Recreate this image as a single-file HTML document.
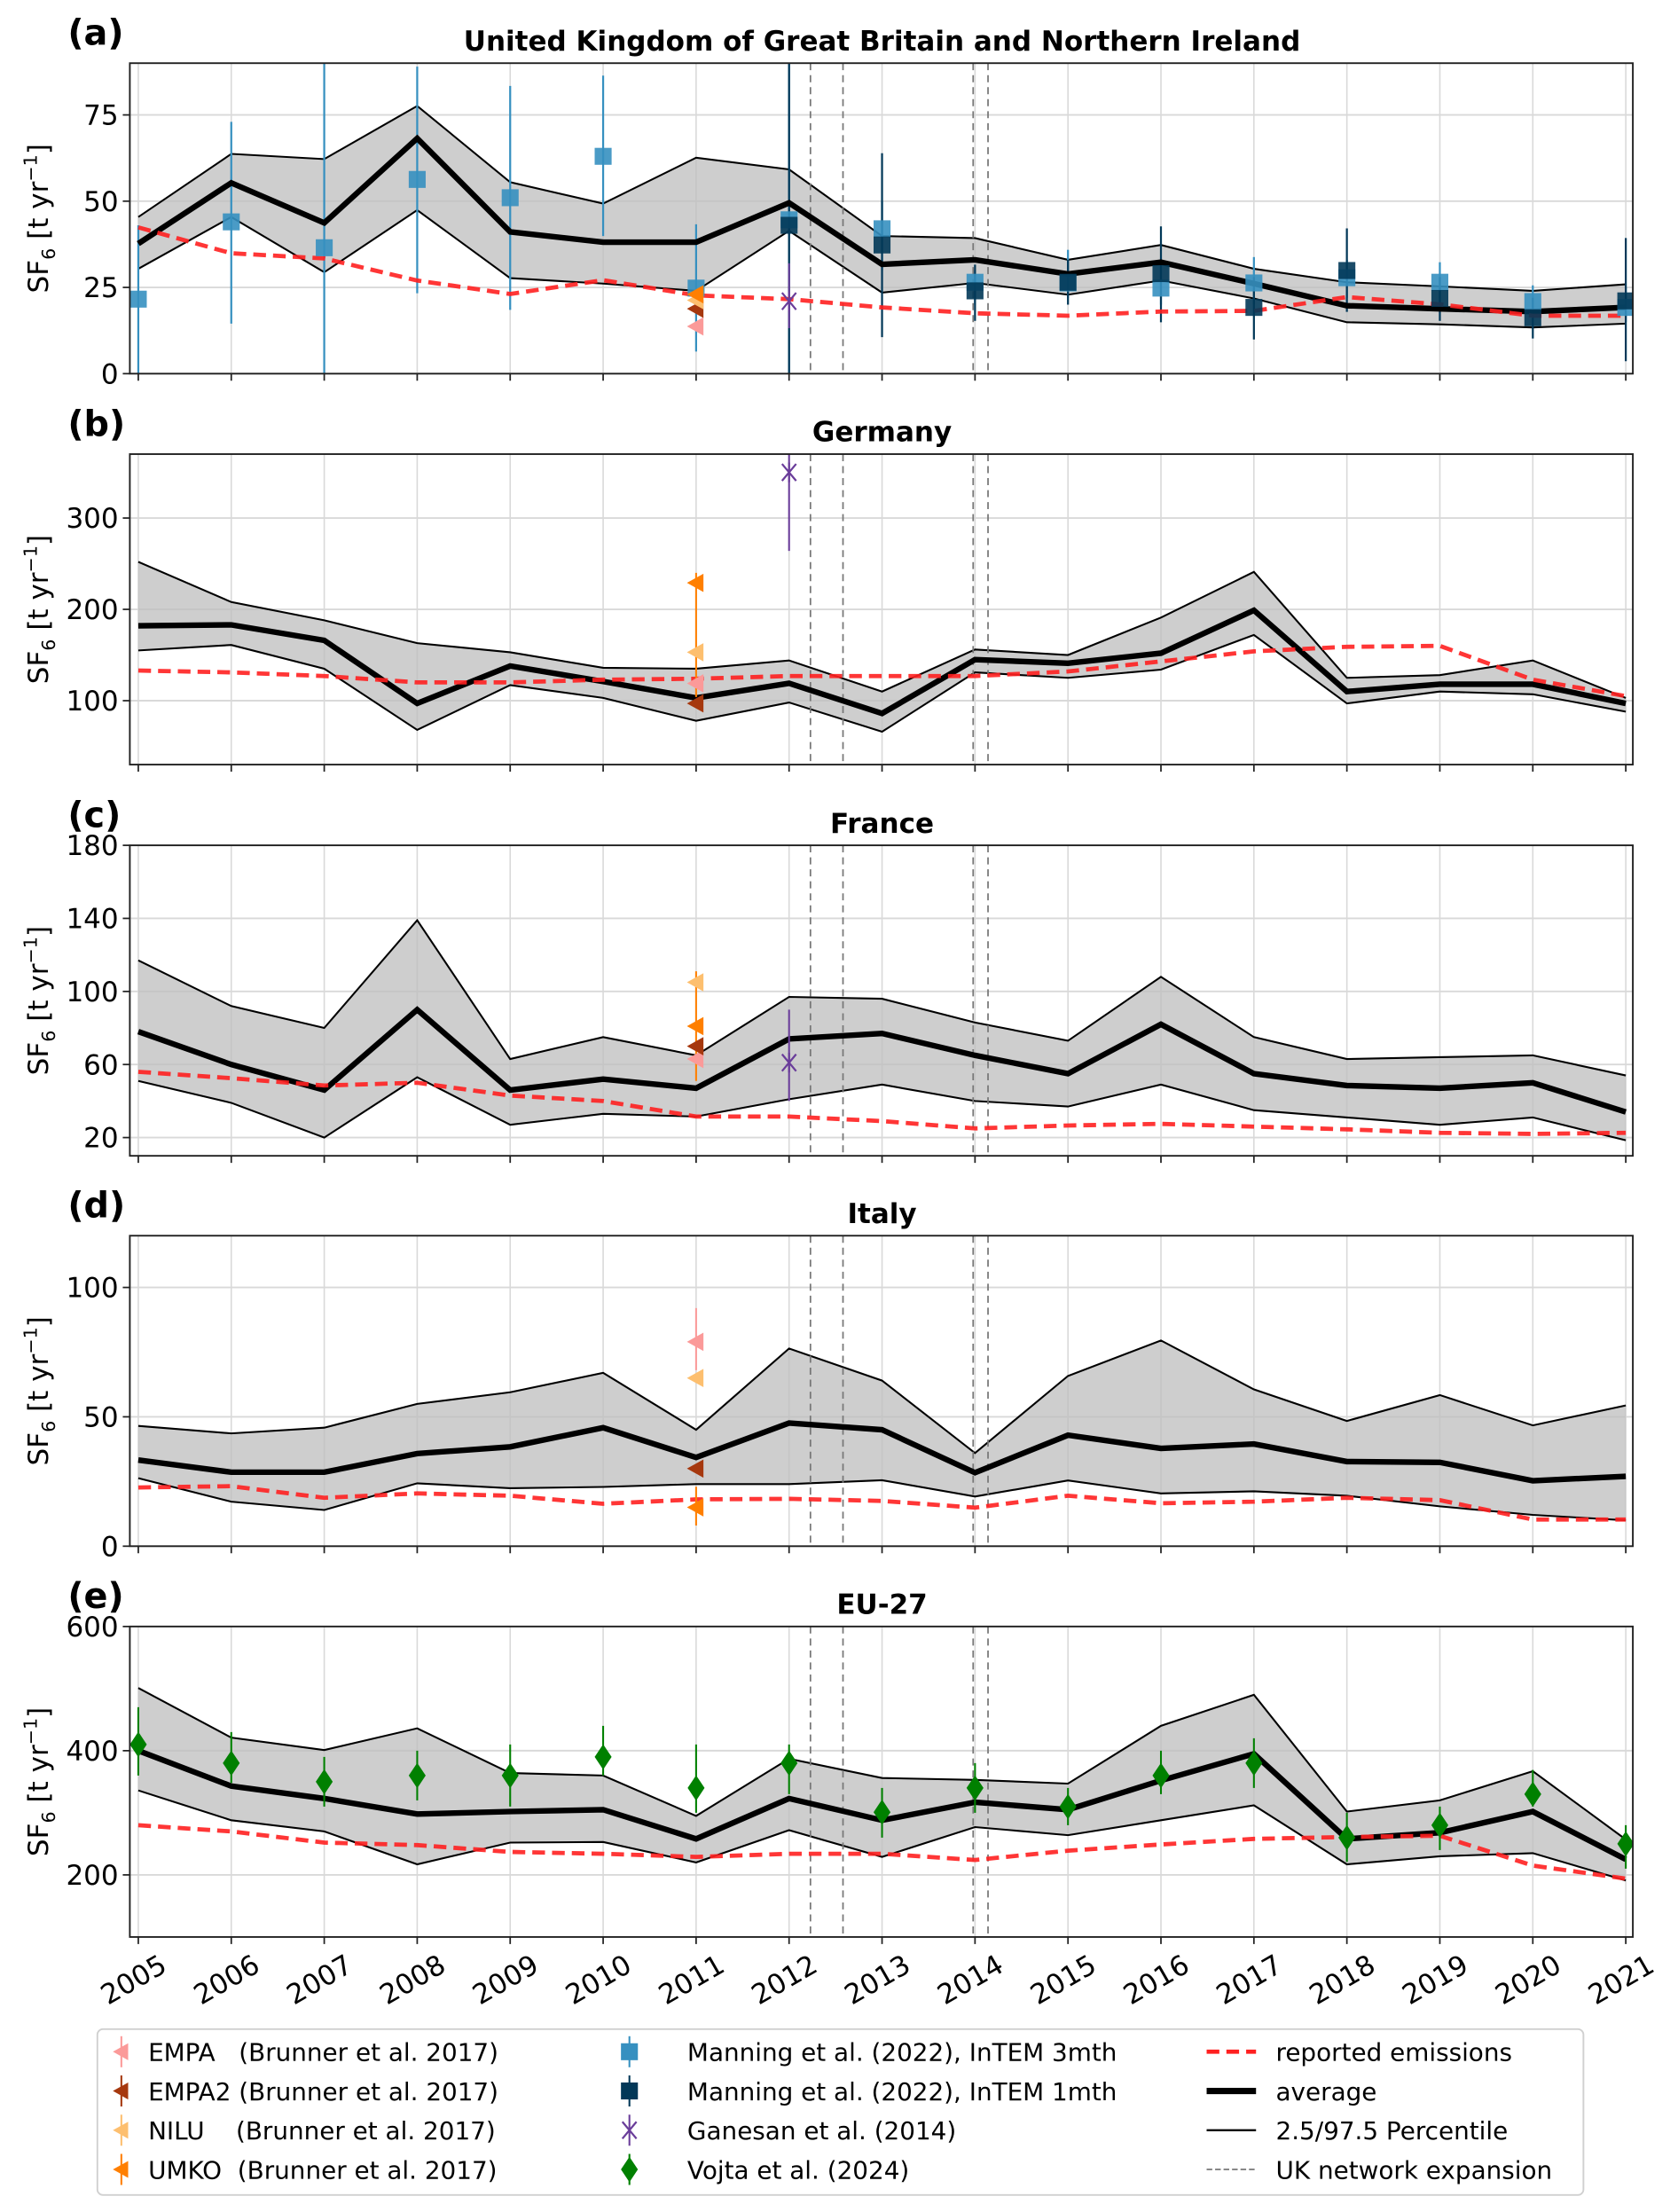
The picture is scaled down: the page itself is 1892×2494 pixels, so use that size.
<!DOCTYPE html>
<html><head><meta charset="utf-8">
<style>
html,body{margin:0;padding:0;background:#fff;}
svg{display:block;font-family:"DejaVu Sans","Liberation Sans",sans-serif;}
</style></head>
<body>
<svg id="chart" xmlns="http://www.w3.org/2000/svg" width="1892" height="2494" viewBox="0 0 1189 1567">
<rect x="0" y="0" width="1189" height="1567" fill="#fff"/>
</svg>
<script>
// ---------- data ----------
const years = [2005,2006,2007,2008,2009,2010,2011,2012,2013,2014,2015,2016,2017,2018,2019,2020,2021];
const expansionDates = [2012.23, 2012.58, 2013.98, 2014.14];

const ukUpper = [45.4,63.7,62.2,77.6,55.5,49.3,62.6,59.2,39.9,39.3,33,37.3,30.4,26.5,25.3,24,25.9];
const ukAvg = [37.7,55.3,43.7,68.2,41.1,38.1,38.1,49.5,31.7,33,28.9,32.3,26.1,19.7,18.8,18,19.2];
const ukLower = [30.4,45.4,29.4,47.4,27.7,26.1,24,41.4,23.5,26.3,22.9,27,21.8,14.9,14.3,13.4,14.5];
const ukReported = [42.4,34.9,33.4,27,23.1,27.1,22.7,21.6,19.2,17.5,16.8,18,18.2,22.2,20.1,16.8,16.8];
const intem3Val = [21.6,44,36.5,56.3,51,63,24.8,44.6,42,26.5,26.3,24.8,26.3,27.8,26.5,20.9,19.2];
const intem3Lo = [0,14.5,0,23.3,18.5,39.9,6.4,0,30,20,22,20,20,22,22,17,15];
const intem3Hi = [43,73,95,89,83.4,86.4,43.3,95,50,30,35.9,33,33.8,33,32.3,25.6,25];
const intem1Years = [2012,2013,2014,2015,2016,2017,2018,2019,2020,2021];
const intem1Val = [43,37.3,24,26.5,29,19.2,29.9,21.8,16.2,21.1];
const intem1Lo = [0,10.6,15.3,20,14.9,9.9,17.9,15.3,10.2,3.6];
const intem1Hi = [95,63.9,31.6,33,42.7,28,42.1,28,22,39.3];

const deUpper = [252,208,188,163,153,136,135,144,110,156,150,191,241,125,128,144,103];
const deAvg = [182,183,166,97,138,121,103,119,86,145,141,152,199,110,118,118,97];
const deLower = [155,161,135,68,117,103,78,98,66,131,125,134,172,97,110,107,88];
const deReported = [133,131,127,120,120,123,124,127,127,127,132,143,154,159,160,123,105];

const frUpper = [117,92,80,139,63,75,65,97,96,83,73,108,75,63,64,65,54];
const frAvg = [78,60,46,90,46,52,47,74,77,65,55,82,55,48.5,47,50,34];
const frLower = [51,39,20,53,27,33,31.5,41,49,40,37,49,35,31,27,31,18.5];
const frReported = [56,52.5,48.5,50,43,40,31.5,31.5,29,25,26.6,27.5,26,24.5,22.6,22,22.6];

const itUpper = [46.5,43.6,45.8,55,59.5,67,45,76.4,64,36,65.8,79.5,60.6,48.4,58.4,46.7,54.4];
const itAvg = [33.3,28.6,28.6,35.8,38.4,45.8,34.3,47.6,45,28.4,42.9,37.8,39.5,32.7,32.4,25.3,27];
const itLower = [26.3,17.2,14,24.3,22.4,22.9,24,24,25.5,19.2,25.4,20.4,21.2,19.5,15.4,12.1,10];
const itReported = [22.7,23.2,18.7,20.4,19.5,16.4,18.1,18.3,17.5,14.9,19.5,16.6,17.2,18.7,17.8,10.3,10.3];

const euUpper = [501,421,401,436,364,360,295,387,356,353,347,440,490,302,320,367,257];
const euAvg = [400,343,323,298,302,305,258,323,288,317,305,352,395,258,268,302,225];
const euLower = [336,288,270,217,252,253,220,272,229,277,264,288,312,217,230,235,191];
const euReported = [280,270,252,248,237,234,229,234,234,224,239,249,258,261,263,215,194];
const vojtaVal = [410,380,350,360,360,390,340,380,301,340,310,360,380,260,280,330,250];
const vojtaLo = [360,348,310,320,310,360,300,330,260,300,280,330,340,221,240,310,210];
const vojtaHi = [470,430,390,400,410,440,410,410,340,380,340,400,420,300,310,369,280];

// Brunner et al. 2017 (2011) and Ganesan (2012) values per panel: [uk, de, fr, it]
const empaVal = [13.7,119,63,79];
const empa2Val = [18.8,97,70,30];
const niluVal = [21.3,153,105,65];
const umkoVal = [23,229,81,15];
const umkoLo = [null,104,51,8];
const umkoHi = [null,240,111,23];
const empaLo = [null,null,null,68];
const empaHi = [null,null,null,92];
const ganesanVal = [21,350,61];
const ganesanLo = [13.2,264,40];
const ganesanHi = [32,370,90];

// ---------- layout ----------
const NS = "http://www.w3.org/2000/svg";
const svg = document.getElementById('chart');
const X0 = 92, X1 = 1157, XA = 98, XB = 1152;
function xs(yr){ return XA + (yr-2005)*(XB-XA)/16; }
function mk(tag, attrs, parent){
  const e = document.createElementNS(NS, tag);
  for (const k in attrs) e.setAttribute(k, attrs[k]);
  (parent||svg).appendChild(e);
  return e;
}
const panels = [
  {key:'uk', label:'(a)', title:'United Kingdom of Great Britain and Northern Ireland', top:44.6, min:0, max:90, ticks:[0,25,50,75],
   up:ukUpper, avg:ukAvg, lo:ukLower, rep:ukReported},
  {key:'de', label:'(b)', title:'Germany', top:321.6, min:30, max:370, ticks:[100,200,300],
   up:deUpper, avg:deAvg, lo:deLower, rep:deReported},
  {key:'fr', label:'(c)', title:'France', top:598.8, min:10, max:180, ticks:[20,60,100,140,180],
   up:frUpper, avg:frAvg, lo:frLower, rep:frReported},
  {key:'it', label:'(d)', title:'Italy', top:875.4, min:0, max:120, ticks:[0,50,100],
   up:itUpper, avg:itAvg, lo:itLower, rep:itReported},
  {key:'eu', label:'(e)', title:'EU-27', top:1152.3, min:100, max:600, ticks:[200,400,600],
   up:euUpper, avg:euAvg, lo:euLower, rep:euReported}
];
const H = 220;
const colEMPA='#fb9a99', colEMPA2='#a6380e', colNILU='#fdbf6f', colUMKO='#ff7f00';
const col3='#3690c0', col1='#023858', colGan='#6a3d9a', colVojta='#008000', colRep='#ff2020';

function tri(g, x, y, color, s){
  s = s||6.5;
  return mk('polygon',{points:`${x-s},${y} ${x+s*0.8},${y-s} ${x+s*0.8},${y+s}`, fill:color},g);
}
function vline(g,x,y1,y2,color,w){
  return mk('line',{x1:x,x2:x,y1:y1,y2:y2,stroke:color,'stroke-width':w||1.3},g);
}

panels.forEach((p, pi) => {
  const ys = v => p.top + (p.max - v)/(p.max - p.min)*H;
  const g = mk('g', {});
  
  
  const clipId = 'clip'+pi;
  const cp = mk('clipPath',{id:clipId},g);
  mk('rect',{x:X0,y:p.top,width:X1-X0,height:H},cp);
  // grid
  const grid = mk('g',{},g);
  
  
  years.forEach(yr => mk('line',{x1:xs(yr),x2:xs(yr),y1:p.top,y2:p.top+H,stroke:'#d9d9d9','stroke-width':1},grid));
  p.ticks.forEach(t => mk('line',{x1:X0,x2:X1,y1:ys(t),y2:ys(t),stroke:'#d9d9d9','stroke-width':1.2},grid));
  const plot = mk('g',{'clip-path':`url(#${clipId})`},g);
  // band
  let pts = years.map((yr,i)=>`${xs(yr)},${ys(p.up[i])}`).concat(years.slice().reverse().map((yr,j)=>{const i=years.length-1-j;return `${xs(yr)},${ys(p.lo[i])}`;}));
  const band = mk('polygon',{points:pts.join(' '),fill:'#bdbdbd','fill-opacity':0.75,stroke:'none'},plot);
  
  
  const upl = mk('polyline',{points:years.map((yr,i)=>`${xs(yr)},${ys(p.up[i])}`).join(' '),fill:'none',stroke:'#000','stroke-width':1.3},plot);
  
  
  const lol = mk('polyline',{points:years.map((yr,i)=>`${xs(yr)},${ys(p.lo[i])}`).join(' '),fill:'none',stroke:'#000','stroke-width':1.3},plot);
  
  
  // expansion lines
  expansionDates.forEach(d => {
    const l = mk('line',{x1:xs(d),x2:xs(d),y1:p.top,y2:p.top+H,stroke:'#777','stroke-width':1.1,'stroke-dasharray':'5,3.5'},plot);
    
    
  });
  // UK InTEM
  if (p.key==='uk'){
    years.forEach((yr,i)=>{
      vline(plot,xs(yr),ys(intem3Lo[i]),ys(intem3Hi[i]),col3,1.4);
    });
    intem1Years.forEach((yr,i)=>{
      vline(plot,xs(yr),ys(intem1Lo[i]),ys(intem1Hi[i]),col1,1.4);
    });
  }
  // average
  const av = mk('polyline',{points:years.map((yr,i)=>`${xs(yr)},${ys(p.avg[i])}`).join(' '),fill:'none',stroke:'#000','stroke-width':4,'stroke-linejoin':'miter'},plot);
  
  
  // reported
  const rp = mk('polyline',{points:years.map((yr,i)=>`${xs(yr)},${ys(p.rep[i])}`).join(' '),fill:'none',stroke:colRep,'stroke-width':3,'stroke-dasharray':'9,5','stroke-opacity':0.9},plot);
  
  
  // markers
  if (p.key==='uk'){
    years.forEach((yr,i)=>{
      const r = mk('rect',{x:xs(yr)-6,y:ys(intem3Val[i])-6,width:12,height:12,fill:col3,'fill-opacity':0.9},plot);
      
      
    });
    intem1Years.forEach((yr,i)=>{
      const r = mk('rect',{x:xs(yr)-6,y:ys(intem1Val[i])-6,width:12,height:12,fill:col1,'fill-opacity':0.9},plot);
      
      
    });
  }
  if (pi < 4){
    const x11 = xs(2011);
    if (umkoLo[pi]!==null) vline(plot,x11,ys(umkoLo[pi]),ys(umkoHi[pi]),colUMKO,1.3);
    if (empaLo[pi]!==null) vline(plot,x11,ys(empaLo[pi]),ys(empaHi[pi]),colEMPA,1.3);
    const m1 = tri(plot,x11,ys(empaVal[pi]),colEMPA);
    
    
    const m2 = tri(plot,x11,ys(empa2Val[pi]),colEMPA2);
    
    
    const m3 = tri(plot,x11,ys(niluVal[pi]),colNILU);
    
    
    const m4 = tri(plot,x11,ys(umkoVal[pi]),colUMKO);
    
    
  }
  if (pi < 3){
    const x12 = xs(2012), gy = ys(ganesanVal[pi]);
    vline(plot,x12,ys(ganesanLo[pi]),ys(ganesanHi[pi]),colGan,1.3);
    const gx = mk('path',{d:`M${x12-5},${gy-6}L${x12+5},${gy+6}M${x12+5},${gy-6}L${x12-5},${gy+6}M${x12},${gy-7}L${x12},${gy+7}`,stroke:colGan,'stroke-width':1.4,fill:'none'},plot);
    
    
  }
  if (p.key==='eu'){
    years.forEach((yr,i)=>{
      const x=xs(yr), y=ys(vojtaVal[i]);
      vline(plot,x,ys(vojtaLo[i]),ys(vojtaHi[i]),colVojta,1.3);
      const d = mk('polygon',{points:`${x},${y-9} ${x+6},${y} ${x},${y+9} ${x-6},${y}`,fill:colVojta},plot);
      
      
    });
  }
  // frame
  const fr = mk('rect',{x:X0,y:p.top,width:X1-X0,height:H,fill:'none',stroke:'#222','stroke-width':1.2},g);
  
  
  // ticks
  years.forEach(yr => mk('line',{x1:xs(yr),x2:xs(yr),y1:p.top+H,y2:p.top+H+5,stroke:'#222','stroke-width':1.1},g));
  p.ticks.forEach(t => {
    mk('line',{x1:X0-5,x2:X0,y1:ys(t),y2:ys(t),stroke:'#222','stroke-width':1.1},g);
    const tl = mk('text',{x:X0-8,y:ys(t)+7,'text-anchor':'end','font-size':19.5,fill:'#000'},g);
    tl.textContent = t;
    
    
  });
  // y label
  const yl = mk('text',{transform:`translate(34,${p.top+H/2}) rotate(-90)`,'text-anchor':'middle','font-size':19.5,fill:'#000'},g);
  yl.innerHTML = 'SF<tspan font-size="13" dy="5">6</tspan><tspan dy="-5"> [t yr</tspan><tspan font-size="13" dy="-8">−1</tspan><tspan dy="8">]</tspan>';
  
  
  // title & label
  const tt = mk('text',{x:625,y:p.top-9,'text-anchor':'middle','font-size':19.5,'font-weight':'bold',fill:'#000'},g);
  tt.textContent = p.title;
  
  
  const pl = mk('text',{x:48,y:p.top-13,'font-size':25,'font-weight':'bold',fill:'#000'},g);
  pl.textContent = p.label;
  
  
  if (p.key==='eu'){
    years.forEach(yr=>{
      const t = mk('text',{transform:`translate(${xs(yr)},${p.top+H+36}) rotate(-30)`,'text-anchor':'middle','font-size':19.5,fill:'#000'},g);
      t.textContent = yr;
      
      
    });
  }
});

// ---------- legend ----------
const lg = mk('g',{});


mk('rect',{x:69,y:1437.6,width:1053,height:117.5,rx:4,fill:'#fff',stroke:'#d0d0d0','stroke-width':1.2},lg);
const rowsY = [1453.6,1481.4,1509.2,1537];
const col1Items = [['EMPA\u00a0\u00a0\u00a0(Brunner et al. 2017)',colEMPA],['EMPA2 (Brunner et al. 2017)',colEMPA2],['NILU\u00a0\u00a0\u00a0\u00a0(Brunner et al. 2017)',colNILU],['UMKO\u00a0\u00a0(Brunner et al. 2017)',colUMKO]];
col1Items.forEach((it,i)=>{
  const y = rowsY[i];
  vline(lg,86,y-11,y+11,it[1],1.3);
  tri(lg,86,y,it[1],6);
  const t = mk('text',{x:105,y:y+6.5,'font-size':17.5,fill:'#000'},lg);
  t.textContent = it[0];
  
  
});
const col2Names = ['Manning et al. (2022), InTEM 3mth','Manning et al. (2022), InTEM 1mth','Ganesan et al. (2014)','Vojta et al. (2024)'];
col2Names.forEach((nm,i)=>{
  const y = rowsY[i], x = 446;
  if (i<2){
    const c = i===0?col3:col1;
    vline(lg,x,y-11,y+11,c,1.3);
    mk('rect',{x:x-6,y:y-6,width:12,height:12,fill:c},lg);
  } else if (i===2){
    vline(lg,x,y-11,y+11,colGan,1.3);
    mk('path',{d:`M${x-5},${y-6}L${x+5},${y+6}M${x+5},${y-6}L${x-5},${y+6}`,stroke:colGan,'stroke-width':1.4},lg);
  } else {
    vline(lg,x,y-11,y+11,colVojta,1.3);
    mk('polygon',{points:`${x},${y-9} ${x+6},${y} ${x},${y+9} ${x-6},${y}`,fill:colVojta},lg);
  }
  const t = mk('text',{x:487,y:y+6.5,'font-size':17.5,fill:'#000'},lg);
  t.textContent = nm;
  
  
});
const col3Names = ['reported emissions','average','2.5/97.5 Percentile','UK network expansion'];
col3Names.forEach((nm,i)=>{
  const y = rowsY[i];
  if (i===0) mk('line',{x1:855,x2:890,y1:y,y2:y,stroke:colRep,'stroke-width':3,'stroke-dasharray':'9,5'},lg);
  if (i===1) mk('line',{x1:855,x2:890,y1:y,y2:y,stroke:'#000','stroke-width':4.5},lg);
  if (i===2) mk('line',{x1:855,x2:890,y1:y,y2:y,stroke:'#000','stroke-width':1.5},lg);
  if (i===3) mk('line',{x1:855,x2:890,y1:y,y2:y,stroke:'#888','stroke-width':1.2,'stroke-dasharray':'4,2'},lg);
  const t = mk('text',{x:904,y:y+6.5,'font-size':17.5,fill:'#000'},lg);
  t.textContent = nm;
  
  
});
</script>
</body></html>
